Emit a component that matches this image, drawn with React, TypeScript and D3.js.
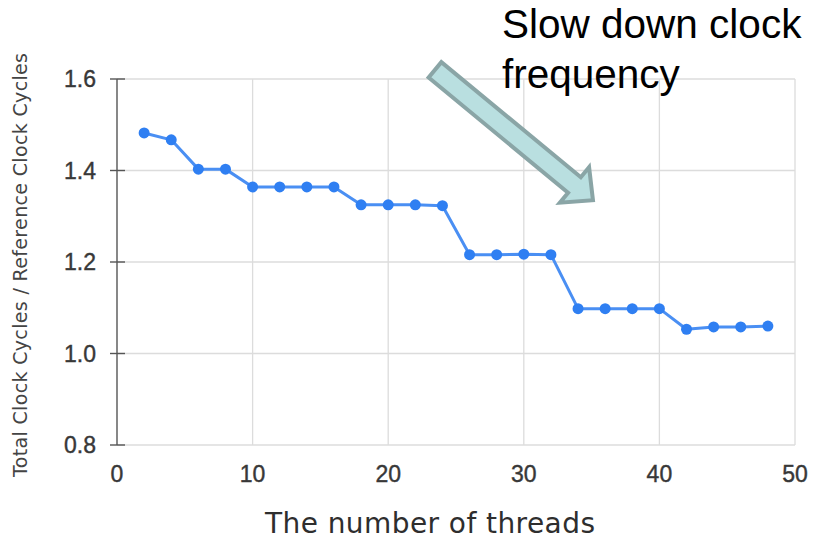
import { useEffect, useRef } from "react";
import * as d3 from "d3";

// threads on the x axis, clock ratio on y
const threads = [2, 4, 6, 8, 10, 12, 14, 16, 18, 20, 22, 24, 26, 28, 30, 32, 34, 36, 38, 40, 42, 44, 46, 48];
const ratio = [1.482, 1.467, 1.403, 1.403, 1.364, 1.364, 1.364, 1.364, 1.325, 1.325, 1.325, 1.323,
  1.216, 1.216, 1.217, 1.216, 1.098, 1.098, 1.098, 1.098, 1.053, 1.058, 1.058, 1.06];
const xTicks = [0, 10, 20, 30, 40, 50];
const yTicks = [0.8, 1.0, 1.2, 1.4, 1.6];
const noteLines = ["Slow down clock", "frequency"];
// arrow tail / tip in data units
const arrowTail = [23.45, 1.62];
const arrowTip = [35.1, 1.335];

const W = 823;
const H = 541;
const FONT = "Arial, 'Liberation Sans', Helvetica, sans-serif";
const WIDE = "'DejaVu Sans', Verdana, sans-serif";

export default function App() {
  const ref = useRef<SVGSVGElement>(null);

  useEffect(() => {
    const svg = d3.select(ref.current);
    svg.selectAll("*").remove();

    const x = d3.scaleLinear().domain([0, 50]).range([117, 795]);
    const y = d3.scaleLinear().domain([0.8, 1.6]).range([445, 79]);

    // grid
    svg.append("g")
      .selectAll("line")
      .data(xTicks.filter((d) => d > 0))
      .join("line")
      .attr("x1", (d) => x(d)).attr("x2", (d) => x(d))
      .attr("y1", y(1.6)).attr("y2", y(0.8))
      .attr("stroke", "#dcdcdc").attr("stroke-width", 1.3);
    svg.append("g")
      .selectAll("line")
      .data(yTicks)
      .join("line")
      .attr("x1", x(0)).attr("x2", x(50))
      .attr("y1", (d) => y(d)).attr("y2", (d) => y(d))
      .attr("stroke", "#dcdcdc").attr("stroke-width", 1.3);

    // y axis line + ticks
    svg.append("line")
      .attr("x1", x(0)).attr("x2", x(0))
      .attr("y1", y(1.6)).attr("y2", y(0.8))
      .attr("stroke", "#555").attr("stroke-width", 1.4);
    svg.append("g")
      .selectAll("line")
      .data(yTicks)
      .join("line")
      .attr("x1", x(0) - 7).attr("x2", x(0) + 8)
      .attr("y1", (d) => y(d)).attr("y2", (d) => y(d))
      .attr("stroke", "#555").attr("stroke-width", 1.4);

    svg.append("g")
      .selectAll("text")
      .data(yTicks)
      .join("text")
      .attr("x", 96)
      .attr("y", (d) => y(d) + 8)
      .attr("text-anchor", "end")
      .attr("font-family", FONT).attr("font-size", 23).attr("fill", "#383838")
      .attr("stroke", "#383838").attr("stroke-width", 0.4)
      .text((d) => d3.format(".1f")(d));

    svg.append("g")
      .selectAll("text")
      .data(xTicks)
      .join("text")
      .attr("x", (d) => x(d))
      .attr("y", 482)
      .attr("text-anchor", "middle")
      .attr("font-family", FONT).attr("font-size", 23).attr("fill", "#383838")
      .attr("stroke", "#383838").attr("stroke-width", 0.4)
      .text((d) => d);

    svg.append("text")
      .attr("x", 265).attr("y", 533)
      .attr("textLength", 330).attr("lengthAdjust", "spacing")
      .attr("font-family", WIDE).attr("font-size", 28).attr("fill", "#2e2e2e")
      .text("The number of threads");

    svg.append("text")
      .attr("transform", "translate(27,477) rotate(-90)")
      .attr("textLength", 424).attr("lengthAdjust", "spacing")
      .attr("font-family", WIDE).attr("font-size", 19).attr("fill", "#444")
      .text("Total Clock Cycles / Reference Clock Cycles");

    // series
    const pts = threads.map((t, i) => [t, ratio[i]] as [number, number]);
    const line = d3.line<[number, number]>().x((d) => x(d[0])).y((d) => y(d[1]));
    svg.append("path")
      .attr("d", line(pts))
      .attr("fill", "none")
      .attr("stroke", "#4a8ff3").attr("stroke-width", 3)
      .attr("stroke-linejoin", "round");
    svg.append("g")
      .selectAll("circle")
      .data(pts)
      .join("circle")
      .attr("cx", (d) => x(d[0])).attr("cy", (d) => y(d[1]))
      .attr("r", 5.5)
      .attr("fill", "#2f7ff2");

    // annotation arrow
    const [tx, ty] = [x(arrowTail[0]), y(arrowTail[1])];
    const [px, py] = [x(arrowTip[0]), y(arrowTip[1])];
    const len = Math.hypot(px - tx, py - ty);
    const ux = (px - tx) / len, uy = (py - ty) / len;
    const nx = -uy, ny = ux;
    const shaftW = 10, headW = 23, headL = 24;
    const bx = px - ux * headL, by = py - uy * headL;
    const poly = [
      [tx + nx * shaftW, ty + ny * shaftW],
      [bx + nx * shaftW, by + ny * shaftW],
      [bx + nx * headW, by + ny * headW],
      [px, py],
      [bx - nx * headW, by - ny * headW],
      [bx - nx * shaftW, by - ny * shaftW],
      [tx - nx * shaftW, ty - ny * shaftW],
    ];
    svg.append("polygon")
      .attr("points", poly.map((p) => p.join(",")).join(" "))
      .attr("fill", "#b9dfe0")
      .attr("stroke", "#8aa5a6").attr("stroke-width", 4)
      .attr("stroke-linejoin", "miter");

    svg.append("g")
      .selectAll("text")
      .data(noteLines)
      .join("text")
      .attr("x", 502)
      .attr("y", (d, i) => 38 + i * 50)
      .attr("font-family", FONT).attr("font-size", 40.5).attr("fill", "#000")
      .text((d) => d);
  }, []);

  return (
    <svg
      ref={ref}
      width={W}
      height={H}
      style={{ position: "absolute", left: 0, top: 0, background: "#fff" }}
    />
  );
}
